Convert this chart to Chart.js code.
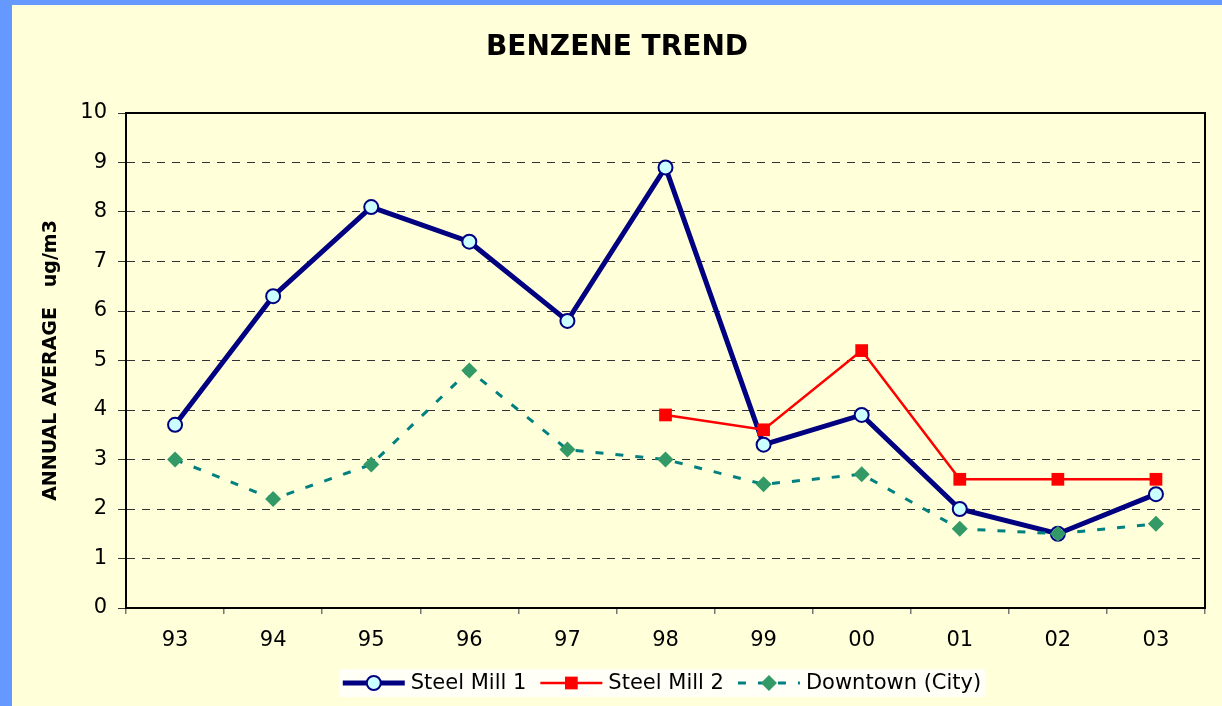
<!DOCTYPE html>
<html>
<head>
<meta charset="utf-8">
<script src="https://cdn.jsdelivr.net/npm/chart.js@4"></script>
<style>
  html, body { margin: 0; padding: 0; background: #6699FF; width: 1222px; height: 706px; overflow: hidden; }
  #moldura { position: absolute; left: 12px; top: 5px; width: 1210px; height: 701px; background: #FFFFD9; }
</style>
</head>
<body>
<div id="moldura"><canvas id="GraficoBenzeno"></canvas></div>
<script>
// valores
var anos = ['93', '94', '95', '96', '97', '98', '99', '00', '01', '02', '03'];
var steelMill1 = [3.7, 6.3, 8.1, 7.4, 5.8, 8.9, 3.3, 3.9, 2.0, 1.5, 2.3];
var steelMill2 = [null, null, null, null, null, 3.9, 3.6, 5.2, 2.6, 2.6, 2.6];
var downtown = [3.0, 2.2, 2.9, 4.8, 3.2, 3.0, 2.5, 2.7, 1.6, 1.5, 1.7];
var nomesSeries = ['Steel Mill 1', 'Steel Mill 2', 'Downtown (City)'];

var fonte = '"DejaVu Sans", Arial, sans-serif';

// titulo, titulo do eixo y, borda da area e legenda
var desenhosExtras = {
    id: 'desenhosExtras',
    beforeDraw: function (chart) {
        var ctx = chart.ctx;
        var area = chart.chartArea;
        ctx.save();
        ctx.fillStyle = '#000';
        ctx.textAlign = 'center';
        ctx.textBaseline = 'middle';
        ctx.font = 'bold 28px ' + fonte;
        ctx.fillText('BENZENE TREND', chart.width / 2, 43);

        ctx.translate(39, (area.top + area.bottom) / 2);
        ctx.rotate(-Math.PI / 2);
        ctx.font = 'bold 19px ' + fonte;
        ctx.fillText('ANNUAL AVERAGE   ug/m3', 0, 0);
        ctx.restore();
    },
    afterDraw: function (chart) {
        var ctx = chart.ctx;
        var area = chart.chartArea;
        ctx.save();
        ctx.strokeStyle = '#000';
        ctx.lineWidth = 2;
        ctx.strokeRect(area.left, area.top, area.right - area.left, area.bottom - area.top);

        // legenda
        ctx.font = '21px ' + fonte;
        var linha = 62, espaco = 6, entre = 14;
        var total = 0;
        nomesSeries.forEach(function (n, i) {
            total += linha + espaco + ctx.measureText(n).width + (i < nomesSeries.length - 1 ? entre : 0);
        });
        var x = 650 - total / 2;
        var y = 678;
        ctx.fillStyle = '#FFFFF7';
        ctx.fillRect(x - 4, y - 14, total + 8, 28);

        chart.data.datasets.forEach(function (ds, i) {
            ctx.save();
            ctx.strokeStyle = ds.borderColor;
            ctx.lineWidth = ds.borderWidth;
            ctx.setLineDash(ds.borderDash || []);
            ctx.beginPath();
            ctx.moveTo(x, y);
            ctx.lineTo(x + linha, y);
            ctx.stroke();
            ctx.restore();
            ctx.fillStyle = ds.pointBackgroundColor;
            ctx.strokeStyle = ds.pointBorderColor;
            ctx.lineWidth = ds.pointBorderWidth;
            ctx.beginPath();
            desenharMarcador(ctx, ds, x + linha / 2, y);
            x += linha + espaco;
            ctx.fillStyle = '#000';
            ctx.textAlign = 'left';
            ctx.textBaseline = 'middle';
            ctx.fillText(nomesSeries[i], x, y + 1);
            x += ctx.measureText(nomesSeries[i]).width + entre;
        });
        ctx.restore();
    }
};

function desenharMarcador(ctx, ds, x, y) {
    var r = ds.pointRadius;
    if (ds.pointStyle === 'circle') {
        ctx.arc(x, y, r, 0, Math.PI * 2);
    } else if (ds.pointStyle === 'rect') {
        var s = r * Math.SQRT1_2;
        ctx.rect(x - s, y - s, 2 * s, 2 * s);
    } else {
        ctx.moveTo(x - r, y);
        ctx.lineTo(x, y - r);
        ctx.lineTo(x + r, y);
        ctx.lineTo(x, y + r);
        ctx.closePath();
    }
    ctx.fill();
    if (ds.pointBorderWidth > 0) ctx.stroke();
}

var ctx = document.getElementById('GraficoBenzeno').getContext('2d');

var grafico = new Chart(ctx, {
    type: 'line',
    data: {
        labels: anos,
        datasets: [
            {
                label: nomesSeries[0],
                data: steelMill1,
                order: 2,
                borderColor: '#000080',
                borderWidth: 5,
                pointStyle: 'circle',
                pointRadius: 7,
                pointHoverRadius: 7,
                pointBackgroundColor: '#CCFFFF',
                pointBorderColor: '#000080',
                pointBorderWidth: 2,
                tension: 0
            },
            {
                label: nomesSeries[1],
                data: steelMill2,
                order: 1,
                borderColor: '#FF0000',
                borderWidth: 2.5,
                pointStyle: 'rect',
                pointRadius: 9,
                pointHoverRadius: 9,
                pointBackgroundColor: '#FF0000',
                pointBorderColor: '#FF0000',
                pointBorderWidth: 0,
                spanGaps: false,
                tension: 0
            },
            {
                label: nomesSeries[2],
                data: downtown,
                order: 0,
                borderColor: '#008080',
                borderWidth: 3,
                borderDash: [8, 12],
                pointStyle: 'rectRot',
                pointRadius: 8,
                pointHoverRadius: 8,
                pointBackgroundColor: '#339966',
                pointBorderColor: '#339966',
                pointBorderWidth: 0,
                tension: 0
            }
        ]
    },
    options: {
        responsive: true,
        maintainAspectRatio: false,
        animation: false,
        layout: { padding: { top: 108, left: 0, right: 17, bottom: 48 } },
        plugins: {
            legend: { display: false },
            title: { display: false },
            tooltip: { enabled: false }
        },
        scales: {
            x: {
                offset: true,
                afterFit: function (scale) { scale.height = 50; },
                grid: {
                    display: true,
                    offset: true,
                    drawOnChartArea: false,
                    tickLength: 6,
                    color: '#777',
                    lineWidth: 1.5
                },
                border: { display: true, color: '#000', width: 2 },
                ticks: { color: '#000', padding: 14, font: { family: fonte, size: 21 } }
            },
            y: {
                min: 0,
                max: 10,
                afterFit: function (scale) { scale.width = 114; },
                grid: { color: '#333', lineWidth: 1, tickLength: 8 },
                border: { display: true, color: '#000', width: 2, dash: [8, 7] },
                ticks: { stepSize: 1, color: '#000', padding: 11, font: { family: fonte, size: 21 } }
            }
        }
    },
    plugins: [desenhosExtras]
});
</script>
</body>
</html>
